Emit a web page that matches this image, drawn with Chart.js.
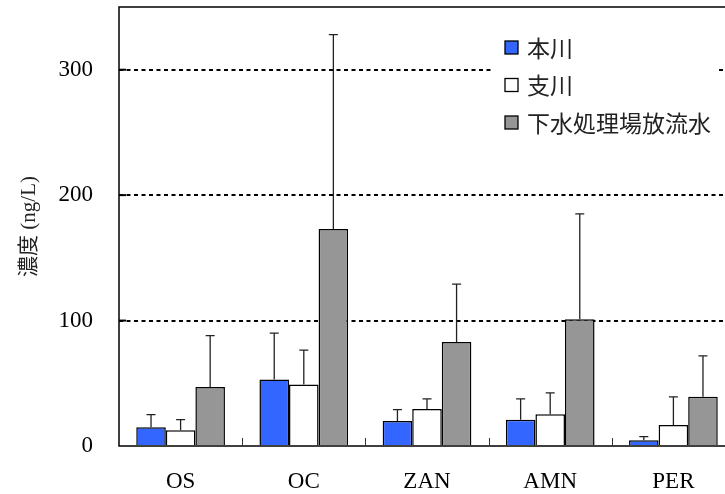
<!DOCTYPE html>
<html>
<head>
<meta charset="utf-8">
<script src="https://cdn.jsdelivr.net/npm/chart.js@4"></script>
<style>
  html, body { margin: 0; padding: 0; background: #fff; overflow: hidden; }
  #wrap { width: 745px; height: 494px; }
</style>
</head>
<body>
<div id="wrap"><canvas id="c" width="745" height="494"></canvas></div>
<script>
// Concentrations (ng/L) per compound, mean and standard deviation
const categories = ['OS', 'OC', 'ZAN', 'AMN', 'PER'];
const seriesNames = ['本川', '支川', '下水処理場放流水'];
const mainRiver = [15, 53, 20, 21, 4.5];
const mainRiverSd = [10, 37, 9, 16.5, 3];
const tributary = [12.5, 49, 29.5, 25.3, 16.7];
const tributarySd = [8.5, 27.5, 8, 17, 22.5];
const effluent = [47, 173, 83, 101, 39.3];
const effluentSd = [41, 155, 46, 84, 32.5];
const yTicks = [0, 100, 200, 300];

const serif = "'Liberation Serif', 'Times New Roman', 'Noto Sans CJK JP', serif";
const gothic = "'Noto Sans CJK JP', 'DejaVu Sans', sans-serif";

// Upward-only error bars with a short cap
const errorBars = {
  id: 'errorBars',
  afterDatasetsDraw(chart) {
    const ctx = chart.ctx;
    const y = chart.scales.y;
    ctx.save();
    ctx.strokeStyle = '#222';
    ctx.lineWidth = 1.3;
    chart.data.datasets.forEach((ds, di) => {
      const meta = chart.getDatasetMeta(di);
      meta.data.forEach((bar, i) => {
        const top = y.getPixelForValue(ds.data[i] + ds.sd[i]);
        ctx.beginPath();
        ctx.moveTo(bar.x, bar.y);
        ctx.lineTo(bar.x, top);
        ctx.moveTo(bar.x - 4.5, top);
        ctx.lineTo(bar.x + 4.5, top);
        ctx.stroke();
      });
    });
    ctx.restore();
  }
};

// Frame, inward tick marks and the in-plot legend
const frameAndLegend = {
  id: 'frameAndLegend',
  afterDraw(chart) {
    const ctx = chart.ctx;
    const a = chart.chartArea;
    const x = chart.scales.x;
    const y = chart.scales.y;
    ctx.save();
    ctx.strokeStyle = '#000';
    ctx.lineWidth = 1.5;
    ctx.strokeRect(a.left, a.top, a.right - a.left, a.bottom - a.top);

    // inward ticks on the category axis, at the boundaries between groups
    ctx.lineWidth = 1;
    ctx.strokeStyle = '#333';
    for (let i = 0; i < categories.length - 1; i++) {
      const bx = Math.round((x.getPixelForValue(i) + x.getPixelForValue(i + 1)) / 2) + 0.5;
      ctx.beginPath();
      ctx.moveTo(bx, a.bottom);
      ctx.lineTo(bx, a.bottom - 8);
      ctx.stroke();
    }
    // inward ticks on the value axis
    ctx.lineWidth = 2;
    ctx.strokeStyle = '#000';
    yTicks.slice(1).forEach(v => {
      const py = y.getPixelForValue(v);
      ctx.beginPath();
      ctx.moveTo(a.left, py);
      ctx.lineTo(a.left + 7, py);
      ctx.stroke();
    });

    // legend
    const lx = a.left + 374, ly = a.top + 20;
    ctx.fillStyle = '#fff';
    ctx.fillRect(lx, ly, 226, 114);
    ctx.font = '23px ' + gothic;
    ctx.textBaseline = 'middle';
    chart.data.datasets.forEach((ds, i) => {
      const cy = a.top + 40 + i * 37.5;
      ctx.fillStyle = ds.backgroundColor;
      ctx.fillRect(lx + 12, cy - 6, 13, 13);
      ctx.lineWidth = 1.3;
      ctx.strokeStyle = '#000';
      ctx.strokeRect(lx + 12, cy - 6, 13, 13);
      ctx.fillStyle = '#222';
      ctx.fillText(ds.label, lx + 34, cy + 1);
    });
    ctx.restore();
  }
};

const barStyle = { borderColor: '#000', borderWidth: 1.5, categoryPercentage: 0.72, barPercentage: 1.0 };

new Chart(document.getElementById('c'), {
  type: 'bar',
  data: {
    labels: categories,
    datasets: [
      { label: seriesNames[0], data: mainRiver, sd: mainRiverSd, backgroundColor: '#3366FF', ...barStyle },
      { label: seriesNames[1], data: tributary, sd: tributarySd, backgroundColor: '#FFFFFF', ...barStyle },
      { label: seriesNames[2], data: effluent, sd: effluentSd, backgroundColor: '#969696', ...barStyle }
    ]
  },
  options: {
    responsive: false,
    animation: false,
    devicePixelRatio: 1,
    layout: { padding: { top: 7, right: 10, left: 0, bottom: 0 } },
    plugins: { legend: { display: false }, tooltip: { enabled: false } },
    scales: {
      x: {
        offset: true,
        grid: { display: false, drawTicks: false },
        border: { display: false },
        ticks: { color: '#000', font: { family: serif, size: 23 }, padding: 22 },
        afterFit(s) { s.height = 48; s.paddingLeft = 0; s.paddingRight = 0; }
      },
      y: {
        min: 0,
        max: 350,
        afterBuildTicks(s) { s.ticks = yTicks.map(v => ({ value: v })); },
        grid: {
          drawTicks: false,
          color: c => (c.tick && c.tick.value > 0 && c.tick.value < 350) ? '#000' : 'rgba(0,0,0,0)',
          lineWidth: 2
        },
        border: { display: false, dash: [4, 3.5] },
        ticks: { color: '#000', font: { family: serif, size: 23 }, padding: 26 },
        title: {
          display: true,
          text: '濃度 (ng/L)',
          color: '#222',
          font: { family: serif, size: 21 },
          padding: { top: 17, bottom: 0 }
        },
        afterFit(s) { s.width = 119; s.paddingTop = 0; s.paddingBottom = 0; }
      }
    }
  },
  plugins: [errorBars, frameAndLegend]
});
</script>
</body>
</html>
